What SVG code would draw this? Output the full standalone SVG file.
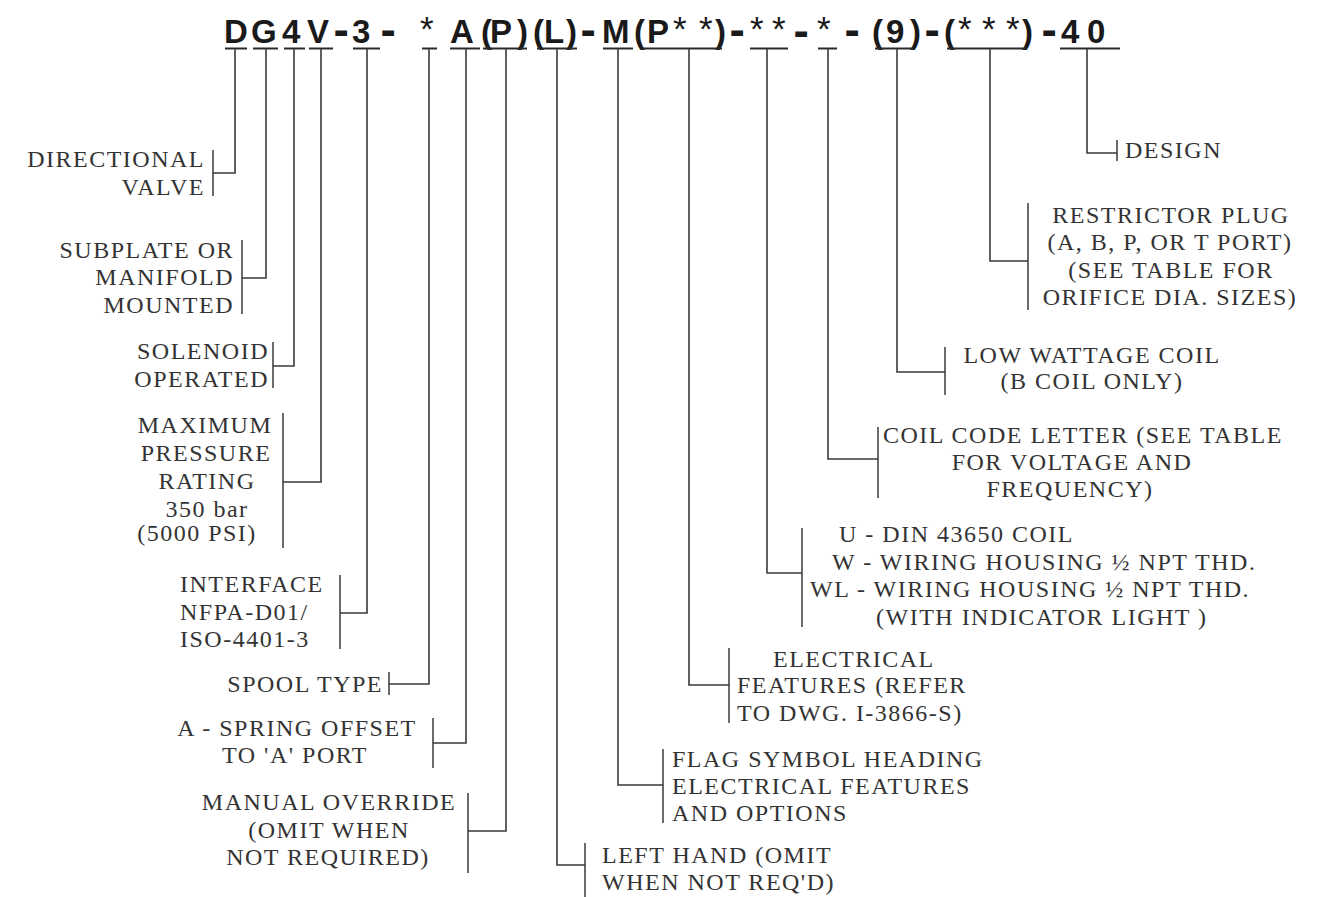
<svg xmlns="http://www.w3.org/2000/svg" width="1317" height="897" viewBox="0 0 1317 897">
<style>
.hdr{font-family:"Liberation Sans",Arial,sans-serif;font-weight:bold;font-size:33px;fill:#1a1a1a}
.ast{font-weight:normal;font-size:35px}
.dash{font-size:46px}
.lbl{font-family:"Liberation Serif","Times New Roman",serif;font-size:24px;letter-spacing:1.5px;fill:#333}
.e{text-anchor:end}
.m{text-anchor:middle}
.br{stroke:#3a3a3a;stroke-width:1.5;fill:none}
.cn{stroke:#3a3a3a;stroke-width:1.6;fill:none}
.bar{stroke:#2a2a2a;stroke-width:2.2;fill:none}
</style>
<rect width="1317" height="897" fill="#fff"/>
<g id="model-code">
<text class="hdr" y="43"><tspan x="224 251 282 307">DG4V</tspan><tspan class="dash" x="333.4" y="44.5">-</tspan><tspan x="352" y="43">3</tspan><tspan class="dash" x="380.4" y="44.5">-</tspan><tspan x="400" y="43"> </tspan><tspan class="ast" x="420" y="41">*</tspan><tspan x="438 450 481 490 517 533 544 566" y="43"> A(P)(L)</tspan><tspan class="dash" x="580.4" y="44.5">-</tspan><tspan x="602 634 647" y="43">M(P</tspan><tspan class="ast" x="673 699" y="41">**</tspan><tspan x="715" y="43">)</tspan><tspan class="dash" x="729.4" y="44.5">-</tspan><tspan class="ast" x="750 772" y="41">**</tspan><tspan class="dash" x="793.4" y="45.5">-</tspan><tspan class="ast" x="817" y="41">*</tspan><tspan class="dash" x="844.4" y="44.5">-</tspan><tspan x="872 886 910" y="43">(9)</tspan><tspan class="dash" x="924.4" y="44.5">-</tspan><tspan x="944" y="43">(</tspan><tspan class="ast" x="958 982 1006" y="41">***</tspan><tspan x="1022" y="43">)</tspan><tspan class="dash" x="1041.4" y="44.5">-</tspan><tspan x="1061 1087" y="43">40</tspan></text>
</g>
<g id="connectors">
<path class="bar" d="M225 48.5H247M253 48.5H278M284 48.5H305M309 48.5H333M353 48.5H380M422 48.5H437M450 48.5H480M483 48.5H527M537 48.5H577M603 48.5H633M642 48.5H722M750 48.5H788M818 48.5H837M875 48.5H913M947 48.5H1027M1060 48.5H1120"/>
<path class="cn" d="M235 49V173H213"/>
<path class="cn" d="M266 49V278H242"/>
<path class="cn" d="M294 49V366H273"/>
<path class="cn" d="M321 49V482H283"/>
<path class="cn" d="M367 49V613H340"/>
<path class="cn" d="M429 49V684H389"/>
<path class="cn" d="M466 49V743H433"/>
<path class="cn" d="M506 49V831H468"/>
<path class="cn" d="M557 49V865H585"/>
<path class="cn" d="M618 49V785H663"/>
<path class="cn" d="M689 49V685H729"/>
<path class="cn" d="M767 49V573H802"/>
<path class="cn" d="M828 49V459H878"/>
<path class="cn" d="M897 49V372H945"/>
<path class="cn" d="M990 49V261H1028"/>
<path class="cn" d="M1087 49V153H1117"/>
</g>
<g id="directional-valve">
<path class="br" d="M213 150V196"/>
<text class="lbl e" x="205" y="167">DIRECTIONAL</text>
<text class="lbl e" x="205" y="195">VALVE</text>
</g>
<g id="subplate">
<path class="br" d="M242 240V314"/>
<text class="lbl e" x="234" y="258">SUBPLATE OR</text>
<text class="lbl e" x="234" y="285">MANIFOLD</text>
<text class="lbl e" x="234" y="313">MOUNTED</text>
</g>
<g id="solenoid">
<path class="br" d="M273 342V388"/>
<text class="lbl e" x="269" y="359">SOLENOID</text>
<text class="lbl e" x="269" y="387">OPERATED</text>
</g>
<g id="pressure">
<path class="br" d="M283 413V548"/>
<text class="lbl m" x="205" y="433">MAXIMUM</text>
<text class="lbl m" x="206" y="461">PRESSURE</text>
<text class="lbl m" x="207" y="489">RATING</text>
<text class="lbl m" x="207" y="517">350 bar</text>
<text class="lbl m" x="197" y="541">(5000 PSI)</text>
</g>
<g id="interface">
<path class="br" d="M340 575V649"/>
<text class="lbl" x="180" y="592">INTERFACE</text>
<text class="lbl" x="180" y="620">NFPA-D01/</text>
<text class="lbl" x="180" y="647">ISO-4401-3</text>
</g>
<g id="spool-type">
<path class="br" d="M389 672V695"/>
<text class="lbl e" x="383" y="692">SPOOL TYPE</text>
</g>
<g id="spring-offset">
<path class="br" d="M433 718V768"/>
<text class="lbl m" x="297" y="736">A - SPRING OFFSET</text>
<text class="lbl m" x="295" y="763">TO 'A' PORT</text>
</g>
<g id="manual-override">
<path class="br" d="M468 793V873"/>
<text class="lbl m" x="329" y="810">MANUAL OVERRIDE</text>
<text class="lbl m" x="329" y="838">(OMIT WHEN</text>
<text class="lbl m" x="328" y="865">NOT REQUIRED)</text>
</g>
<g id="left-hand">
<path class="br" d="M585 843V897"/>
<text class="lbl" x="602" y="863">LEFT HAND (OMIT</text>
<text class="lbl" x="602" y="890">WHEN NOT REQ'D)</text>
</g>
<g id="flag-symbol">
<path class="br" d="M663 749V823"/>
<text class="lbl" x="672" y="767">FLAG SYMBOL HEADING</text>
<text class="lbl" x="672" y="794">ELECTRICAL FEATURES</text>
<text class="lbl" x="672" y="821">AND OPTIONS</text>
</g>
<g id="electrical-features">
<path class="br" d="M729 648V723"/>
<text class="lbl" x="773" y="667">ELECTRICAL</text>
<text class="lbl" x="737" y="693">FEATURES (REFER</text>
<text class="lbl" x="737" y="721">TO DWG. I-3866-S)</text>
</g>
<g id="coil-housing">
<path class="br" d="M802 528V627"/>
<text class="lbl" x="839" y="542">U - DIN 43650 COIL</text>
<text class="lbl" x="832" y="570">W - WIRING HOUSING ½ NPT THD.</text>
<text class="lbl" x="810" y="597">WL - WIRING HOUSING ½ NPT THD.</text>
<text class="lbl" x="876" y="625">(WITH INDICATOR LIGHT )</text>
</g>
<g id="coil-code">
<path class="br" d="M878 427V498"/>
<text class="lbl" x="883" y="443">COIL CODE LETTER (SEE TABLE</text>
<text class="lbl m" x="1072" y="470">FOR VOLTAGE AND</text>
<text class="lbl m" x="1070" y="497">FREQUENCY)</text>
</g>
<g id="low-wattage">
<path class="br" d="M945 347V395"/>
<text class="lbl m" x="1092" y="363">LOW WATTAGE COIL</text>
<text class="lbl m" x="1092" y="389">(B COIL ONLY)</text>
</g>
<g id="restrictor-plug">
<path class="br" d="M1028 203V310"/>
<text class="lbl m" x="1171" y="223">RESTRICTOR PLUG</text>
<text class="lbl m" x="1170" y="250">(A, B, P, OR T PORT)</text>
<text class="lbl m" x="1171" y="278">(SEE TABLE FOR</text>
<text class="lbl m" x="1170" y="305">ORIFICE DIA. SIZES)</text>
</g>
<g id="design">
<path class="br" d="M1117 140V161"/>
<text class="lbl" x="1125" y="158">DESIGN</text>
</g>
</svg>
